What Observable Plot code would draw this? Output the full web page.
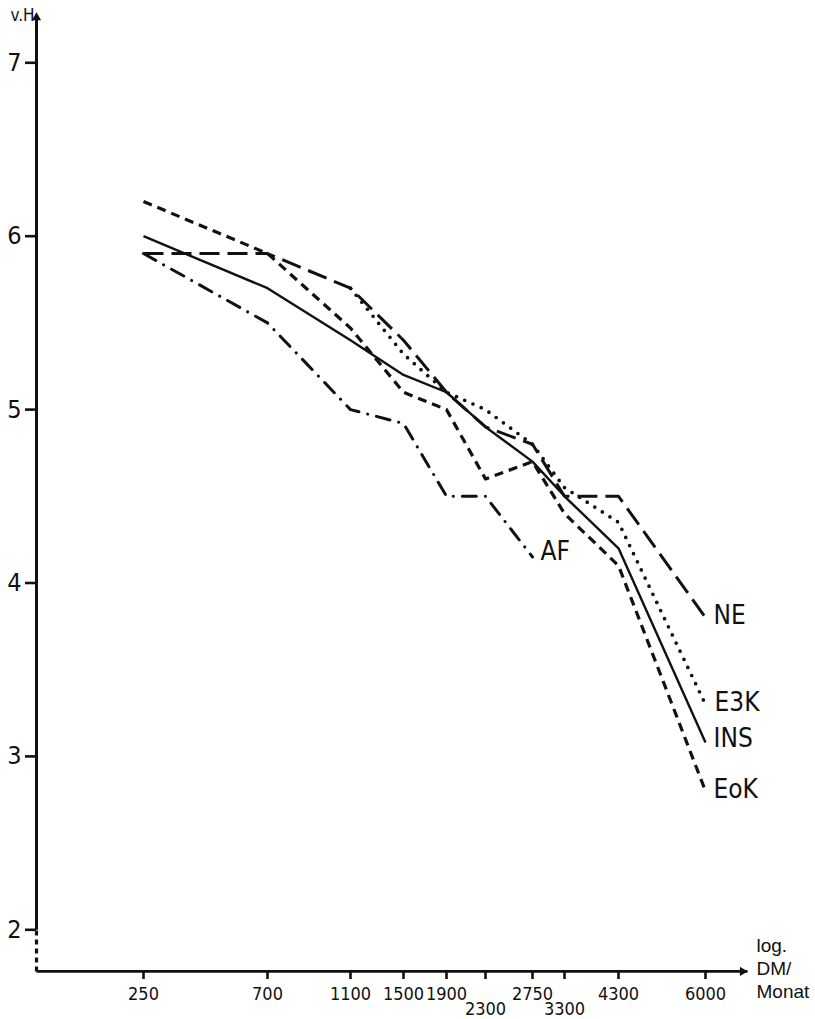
<!DOCTYPE html>
<html><head><meta charset="utf-8">
<script src="https://cdn.jsdelivr.net/npm/d3@7"></script>
<script src="https://cdn.jsdelivr.net/npm/@observablehq/plot@0.6"></script>
<style>
html,body{margin:0;padding:0;background:#fff;overflow:hidden}
#chart svg{display:block}
</style></head><body><div id="chart"></div>
<script>
// ---- data ----
const incomeTicks = [250, 700, 1100, 1500, 1900, 2300, 2750, 3300, 4300, 6000];
const lowTicks = [2300, 3300];
const valueTicks = [2, 3, 4, 5, 6, 7];
const INS = [6.0, 5.7, 5.4, 5.2, 5.1, 4.9, 4.7, 4.5, 4.2, 3.08];
const NE  = [5.9, 5.9, 5.7, 5.4, 5.1, 4.9, 4.8, 4.5, 4.5, 3.8];
const E3K = [null, null, 5.7, 5.32, 5.1, 5.0, 4.8, 4.55, 4.35, 3.3];
const EoK = [6.2, 5.9, 5.47, 5.1, 5.0, 4.6, 4.7, 4.4, 4.1, 2.8];
const AF  = [5.9, 5.5, 5.0, 4.92, 4.5, 4.5, 4.15];
const yAxisTitle = "v.H";
const xAxisTitle = "log.\nDM/\nMonat";

// ---- layout ----
const W = 815, H = 1019;
const xMin = 0, xMax = 7000;       // axis extents in x-domain
const yMin = 1.76, yMax = 7.29;    // axis extents in y-domain
const xPix = [36, 143, 267, 350, 403, 446, 485, 532, 564, 618, 705, 747];
const narrow = "'Liberation Sans Narrow', 'DejaVu Sans Condensed', 'Liberation Sans', sans-serif";
const regular = "'Liberation Sans', Arial, sans-serif";
const ink = "#111";

const rows = (name, vals) => vals.map((v, i) => ({series: name, x: incomeTicks[i], y: v})).filter(d => d.y != null);

const series = [
  {name: "NE",  vals: NE,  dash: "20 8",        w: 3.0, cap: "butt",  dx: 8, dy: -2},
  {name: "E3K", vals: E3K, dash: "0 9",         w: 3.7, cap: "round", dx: 9, dy: -2},
  {name: "INS", vals: INS, dash: null,          w: 2.4, cap: "butt",  dx: 8, dy: -4},
  {name: "EoK", vals: EoK, dash: "9 6",         w: 3.2, cap: "butt",  dx: 8, dy: -1},
  {name: "AF",  vals: AF,  dash: "14 9 0.1 9",  w: 3.0, cap: "round", dx: 8, dy: -5}
];

const marks = [];
// axes lines
marks.push(Plot.link([{}], {x1: xMin, x2: xMin, y1: 2, y2: yMax - 0.02, stroke: ink, strokeWidth: 3}));
marks.push(Plot.link([{}], {x1: xMin, x2: xMin, y1: yMin, y2: 2, stroke: ink, strokeWidth: 3.2, strokeDasharray: "5 4"}));
marks.push(Plot.link([{}], {x1: xMin, x2: xMax, y1: yMin, y2: yMin, stroke: ink, strokeWidth: 2.8}));
marks.push(Plot.dot([{}], {x: xMin, y: yMax, symbol: "triangle", r: 3.4, fill: ink, stroke: null, dy: 5}));
marks.push(Plot.dot([{}], {x: xMax, y: yMin, symbol: "triangle", r: 3.4, fill: ink, stroke: null, rotate: 90, dx: -5}));
marks.push(Plot.axisY(valueTicks, {anchor: "left", tickSize: 11, tickPadding: 4, fontSize: 25, strokeWidth: 2.6, label: null, tickFormat: d3.format("d"), fontFamily: narrow, fill: ink, stroke: ink}));
marks.push(Plot.axisX(incomeTicks.filter(t => !lowTicks.includes(t)), {anchor: "bottom", tickSize: 8, tickPadding: 8, fontSize: 18, strokeWidth: 2.6, label: null, tickFormat: d3.format("d"), fontFamily: narrow, fill: ink, stroke: ink}));
marks.push(Plot.axisX(lowTicks, {anchor: "bottom", tickSize: 8, tickPadding: 23, fontSize: 18, strokeWidth: 2.6, label: null, tickFormat: d3.format("d"), fontFamily: narrow, fill: ink, stroke: ink}));
marks.push(Plot.text([yAxisTitle], {x: xMin, y: yMax, text: d => d, textAnchor: "end", dx: -2, dy: 3, fontSize: 17, fontFamily: narrow, fill: ink}));
marks.push(Plot.text([xAxisTitle], {x: xMax, y: yMin, text: d => d, textAnchor: "start", dx: 9, dy: -4, fontSize: 19, lineHeight: 1.2, fontFamily: regular, fill: ink}));

// series
for (const s of series) {
  const data = rows(s.name, s.vals);
  marks.push(Plot.line(data, {x: "x", y: "y", stroke: ink, strokeWidth: s.w, strokeDasharray: s.dash, strokeLinecap: s.cap, strokeLinejoin: "round"}));
  const last = data[data.length - 1];
  marks.push(Plot.text([last], {x: "x", y: "y", text: () => s.name, textAnchor: "start", dx: s.dx, dy: s.dy, fontSize: 26, fontFamily: narrow, fill: ink}));
}

const chart = Plot.plot({
  width: W, height: H,
  marginLeft: 36, marginBottom: 48, marginTop: 10, marginRight: 68,
  x: {type: "linear", domain: [xMin, ...incomeTicks, xMax], range: xPix},
  y: {type: "linear", domain: [2, 7], range: [929.3, 62.3]},
  style: {fontFamily: narrow, color: ink, background: "#fff"},
  marks
});
document.getElementById("chart").append(chart);
</script></body></html>
